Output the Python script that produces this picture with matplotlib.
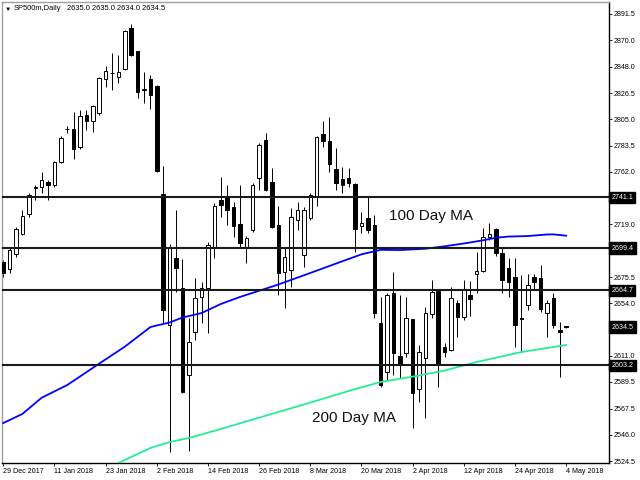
import matplotlib
matplotlib.use("Agg")
import matplotlib.pyplot as plt

# daily OHLC, SP500m, 29 Dec 2017 .. 4 May 2018 (one entry per trading bar)
opens = [2687.9, 2682.1, 2694.5, 2710.9, 2727.3, 2749.0, 2749.5, 2753.6, 2751.1, 2770.0,
         2796.8, 2797.1, 2782.3, 2808.6, 2803.6, 2810.2, 2838.1, 2842.8, 2839.8, 2846.3,
         2880.0, 2861.1, 2829.5, 2838.1, 2832.4, 2743.7, 2636.2, 2691.2, 2666.5, 2595.1,
         2630.4, 2659.2, 2666.5, 2699.4, 2738.8, 2741.3, 2733.0, 2719.1, 2699.4, 2714.2,
         2756.9, 2788.1, 2753.6, 2718.3, 2679.7, 2681.3, 2722.4, 2693.6, 2724.0, 2741.3,
         2793.0, 2787.2, 2764.3, 2756.0, 2756.9, 2751.9, 2717.5, 2724.0, 2718.3, 2637.8,
         2597.6, 2662.4, 2610.7, 2613.2, 2641.1, 2583.6, 2609.1, 2645.2, 2664.1, 2618.1,
         2615.7, 2654.2, 2642.7, 2660.8, 2678.0, 2680.5, 2708.4, 2715.0, 2695.3, 2683.0,
         2675.6, 2642.0, 2652.6, 2675.6, 2674.8, 2646.0, 2658.3, 2632.1, 2635.0]
highs = [2689.5, 2699.4, 2716.6, 2730.6, 2744.5, 2751.1, 2761.8, 2755.2, 2770.5, 2791.3,
         2799.6, 2811.0, 2812.7, 2812.7, 2816.5, 2839.5, 2848.8, 2859.5, 2857.8, 2878.4,
         2883.3, 2861.5, 2843.9, 2841.4, 2833.0, 2766.7, 2702.7, 2730.6, 2690.4, 2641.9,
         2674.8, 2671.5, 2704.3, 2736.3, 2757.7, 2751.1, 2737.1, 2751.1, 2709.2, 2752.8,
         2785.6, 2793.8, 2765.1, 2733.9, 2699.4, 2732.2, 2737.1, 2733.1, 2744.5, 2791.0,
         2803.6, 2807.0, 2781.5, 2765.9, 2765.1, 2752.5, 2728.9, 2742.1, 2726.5, 2659.2,
         2662.4, 2679.7, 2660.8, 2659.2, 2641.5, 2619.8, 2650.9, 2673.1, 2664.5, 2621.4,
         2667.4, 2656.7, 2673.1, 2672.3, 2696.1, 2715.8, 2719.9, 2715.5, 2699.4, 2691.2,
         2691.2, 2677.2, 2678.0, 2678.0, 2685.4, 2656.7, 2662.4, 2638.6, 2635.0]
lows = [2675.6, 2678.9, 2692.0, 2710.1, 2724.8, 2738.8, 2744.5, 2738.8, 2749.5, 2769.2,
        2793.8, 2772.5, 2780.7, 2796.3, 2794.6, 2808.6, 2831.6, 2829.1, 2834.9, 2845.5,
        2857.0, 2822.5, 2818.4, 2813.5, 2762.0, 2637.8, 2531.9, 2663.3, 2580.3, 2532.7,
        2623.9, 2637.8, 2629.6, 2691.2, 2724.8, 2718.3, 2708.4, 2700.2, 2687.1, 2712.5,
        2747.0, 2746.5, 2716.0, 2660.8, 2650.1, 2667.4, 2714.2, 2683.8, 2722.4, 2733.9,
        2782.3, 2761.8, 2747.0, 2744.5, 2749.5, 2696.1, 2711.7, 2711.7, 2641.9, 2585.3,
        2591.0, 2595.1, 2592.6, 2609.9, 2551.6, 2572.9, 2559.8, 2641.9, 2585.3, 2609.9,
        2615.0, 2626.3, 2640.3, 2643.6, 2662.4, 2679.7, 2706.0, 2692.8, 2662.4, 2659.2,
        2618.1, 2614.0, 2648.5, 2664.9, 2646.8, 2626.3, 2633.7, 2593.5, 2634.0]
closes = [2678.9, 2697.7, 2715.0, 2725.7, 2742.9, 2749.8, 2755.2, 2751.1, 2770.0, 2789.7,
          2797.4, 2780.7, 2807.8, 2803.6, 2816.0, 2839.0, 2844.7, 2843.4, 2843.9, 2877.5,
          2857.8, 2827.5, 2830.1, 2825.0, 2762.6, 2648.5, 2699.4, 2683.0, 2581.2, 2622.2,
          2658.3, 2666.5, 2701.8, 2733.9, 2734.7, 2730.6, 2717.5, 2703.5, 2707.6, 2751.1,
          2783.9, 2747.0, 2716.6, 2678.9, 2692.0, 2724.8, 2730.6, 2730.6, 2742.9, 2790.5,
          2787.2, 2768.4, 2752.8, 2751.1, 2752.8, 2715.0, 2719.9, 2714.2, 2646.0, 2586.9,
          2660.8, 2613.2, 2603.3, 2641.9, 2580.3, 2614.0, 2646.0, 2663.3, 2603.3, 2614.0,
          2658.3, 2642.7, 2664.9, 2657.5, 2680.5, 2708.4, 2710.9, 2695.3, 2673.1, 2671.5,
          2636.2, 2641.0, 2669.0, 2671.5, 2649.3, 2654.2, 2636.2, 2630.4, 2634.5]

# moving averages (bar index, value)
ma100_bars = [0, 3, 6, 10, 15, 19, 23, 24, 26, 28, 31, 34, 37, 43, 48, 53, 56, 59, 62,
              66, 69, 72, 75, 77, 79, 82, 85, 86, 88]
ma100_vals = [2555.7, 2563.2, 2576.5, 2586.9, 2604.5, 2618.4, 2634.5, 2635.8, 2638.2,
              2642.3, 2646.0, 2653.4, 2659.2, 2669.4, 2678.9, 2688.5, 2694.2, 2697.9,
              2697.7, 2698.8, 2700.8, 2703.1, 2705.7, 2707.8, 2708.8, 2709.2, 2710.5,
              2710.6, 2709.5]
ma200_bars = [18, 23, 26, 29, 34, 39, 47, 55, 59, 65, 69, 74, 81, 85, 88]
ma200_vals = [2522.9, 2535.2, 2540.1, 2543.4, 2550.8, 2558.6, 2570.9, 2583.6, 2589.4,
              2594.7, 2598.8, 2605.8, 2614.0, 2617.3, 2619.8]

levels = [2741.1, 2699.4, 2664.7, 2603.2]
last_price = 2634.5

date_ticks = [0, 8, 16, 24, 32, 40, 48, 56, 64, 72, 80, 88]
date_labels = ["29 Dec 2017", "11 Jan 2018", "23 Jan 2018", "2 Feb 2018", "14 Feb 2018",
               "26 Feb 2018", "8 Mar 2018", "20 Mar 2018", "2 Apr 2018", "12 Apr 2018",
               "24 Apr 2018", "4 May 2018"]
price_ticks = [2891.5, 2870.0, 2848.0, 2826.5, 2805.0, 2783.5, 2762.0, 2740.5, 2719.0,
               2697.5, 2675.5, 2654.0, 2632.5, 2611.0, 2589.5, 2567.5, 2546.0, 2524.5]
# these three sit under the black price boxes on the right
hidden_ticks = [2740.5, 2697.5, 2632.5]

plt.rcParams['font.family'] = ['Liberation Sans', 'DejaVu Sans']
small = 5.1

fig = plt.figure(figsize=(6.4, 4.8), dpi=100)
ax = fig.add_axes([2 / 640, 17 / 480, 607 / 640, 461 / 480])

bars = list(range(len(opens)))
ax.vlines(bars, lows, highs, color='black', lw=0.7, zorder=2)
bottoms = [min(o, c) for o, c in zip(opens, closes)]
heights = [max(abs(c - o), 0.5) for o, c in zip(opens, closes)]
colors = ['white' if c >= o else 'black' for o, c in zip(opens, closes)]
ax.bar(bars, heights, bottom=bottoms, width=0.55, color=colors,
       edgecolor='black', linewidth=0.7, zorder=3)

ax.plot(ma100_bars, ma100_vals, color='#0000ff', lw=1.3, zorder=4)
ax.plot(ma200_bars, ma200_vals, color='#22ee99', lw=1.3, zorder=4)

for lvl in levels:
    ax.axhline(lvl, color='#1a1a1a', lw=1.5, zorder=5)

for lvl in levels + [last_price]:
    ax.text(1.004, lvl, f"{lvl:.1f}", transform=ax.get_yaxis_transform(),
            ha='left', va='center', fontsize=small, color='white', zorder=6,
            clip_on=False,
            bbox=dict(boxstyle='square,pad=0.3', fc='black', ec='black'))

ax.text(66.9, 2725.7, "100 Day MA", fontsize=11, color='#111111',
        ha='center', va='center', zorder=6)
ax.text(54.85, 2559.8, "200 Day MA", fontsize=11, color='#111111',
        ha='center', va='center', zorder=6)

ax.set_xlim(-0.2, 94.7)
ax.set_ylim(2522.9, 2901.35)

ax.yaxis.tick_right()
ax.set_yticks(price_ticks, ["" if t in hidden_ticks else f"{t:.1f}" for t in price_ticks])
ax.set_xticks(date_ticks, date_labels, ha='left')
ax.tick_params(axis='y', direction='out', length=2.2, width=0.6, pad=1.5,
               labelsize=small)
ax.tick_params(axis='x', direction='out', length=2.5, width=0.6, pad=1,
               labelsize=small)

for side in ['left', 'top']:
    ax.spines[side].set_color('#a0a0a0')
for side in ['right', 'bottom']:
    ax.spines[side].set_color('black')
for sp in ax.spines.values():
    sp.set_linewidth(1.0)

fig.text(5 / 640, 1 - 9 / 480, "\u25bc", fontsize=4.5, va='center', ha='left')
fig.text(14 / 640, 1 - 9 / 480, "SP500m,Daily", fontsize=5.4, va='center', ha='left')
fig.text(67 / 640, 1 - 9 / 480, "2635.0 2635.0 2634.0 2634.5", fontsize=5.4,
         va='center', ha='left')

fig.savefig("out.png", dpi=100)
